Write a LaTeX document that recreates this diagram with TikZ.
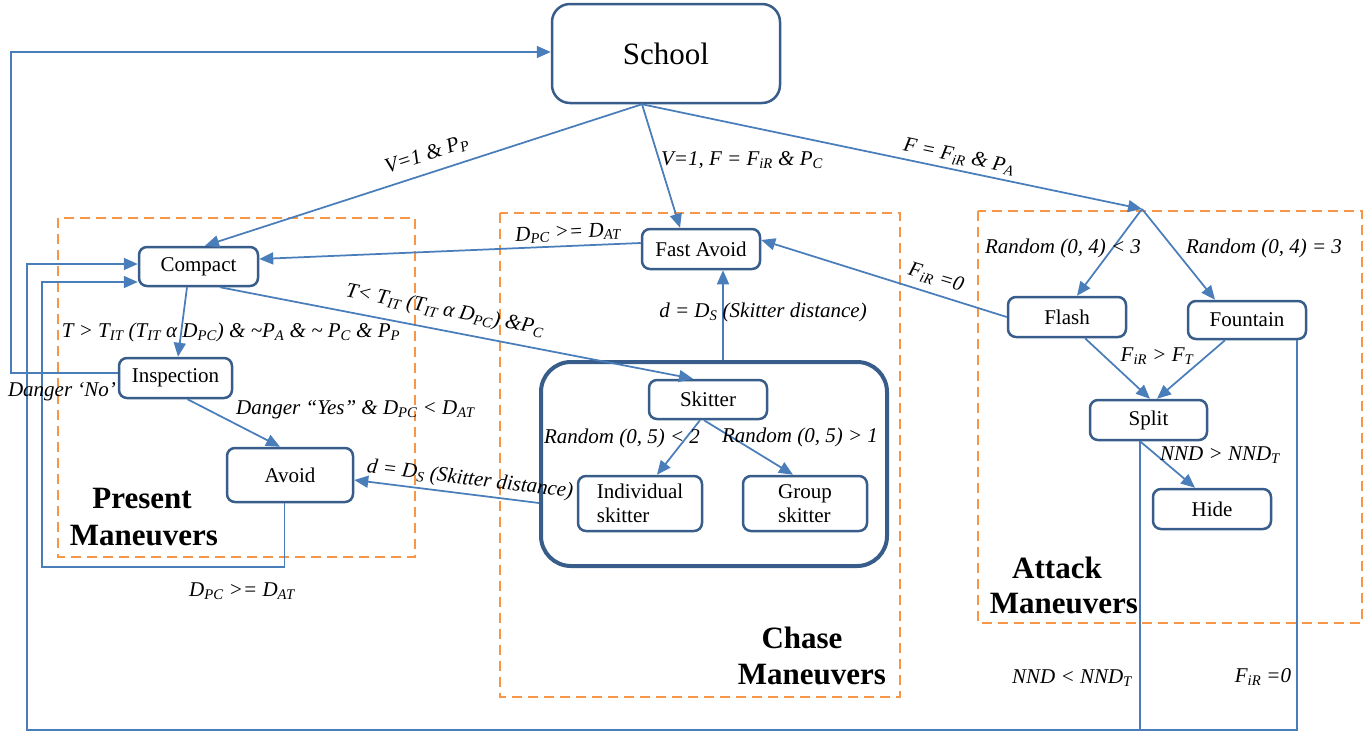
\documentclass[tikz,border=0pt]{standalone}
\usepackage{fontspec}
\setmainfont{Liberation Serif}
\usetikzlibrary{arrows.meta}
\definecolor{linkblue}{RGB}{74,126,187}
\definecolor{boxblue}{RGB}{56,93,138}
\definecolor{zoneorange}{RGB}{247,150,70}

\begin{document}
\begin{tikzpicture}[x=1pt,y=-1pt,
  state/.style={draw=boxblue, line width=2.5pt, rounded corners=8pt, fill=white,
    inner sep=0pt, font=\fontsize{21}{24}\selectfont},
  link/.style={draw=linkblue, line width=1.75pt},
  arr/.style={link, -{Triangle[length=14pt,width=12pt]}},
  cond/.style={font=\fontsize{21}{24}\selectfont\itshape, inner sep=0pt},
  zone/.style={draw=zoneorange, line width=2.5pt, dash pattern=on 10pt off 6pt},
  title/.style={font=\fontsize{31}{37}\selectfont\bfseries, inner sep=0pt}
]
\useasboundingbox (0,0) rectangle (1371,734);

% maneuver groups
\draw[zone] (58,218) rectangle (415,557);
\draw[zone] (500,213) rectangle (900,697);
\draw[zone] (978,211) rectangle (1362,623);

\node[title] (presentA) at (142,498) {Present};
\node[title] (presentB) at (144,536) {Maneuvers};
\node[title] (chaseA) at (802,638) {Chase};
\node[title] (chaseB) at (812,675) {Maneuvers};
\node[title] (attackA) at (1057,568) {Attack};
\node[title] (attackB) at (1064,604) {Maneuvers};

% states
\node[state, rounded corners=18pt, minimum width=228pt, minimum height=99pt,
  font=\fontsize{31}{36}\selectfont] (school) at (666,53.5) {School};
\node[state, minimum width=119pt, minimum height=39pt] (compact) at (198.5,266.5) {Compact};
\node[state, minimum width=113pt, minimum height=40pt] (inspection) at (175.5,378) {Inspection};
\node[state, minimum width=126pt, minimum height=54pt] (avoid) at (290,475) {Avoid};
\node[state, minimum width=118pt, minimum height=40pt] (fastavoid) at (701,249) {Fast Avoid};
\node[draw=boxblue, line width=4pt, rounded corners=30pt, minimum width=346pt,
  minimum height=204pt, inner sep=0pt] (skitgroup) at (714,464) {};
\node[state, minimum width=118pt, minimum height=39pt] (skitter) at (708,399.5) {Skitter};
\node[state, minimum width=124pt, minimum height=55pt, align=left] (indiv) at (640,503.5) {Individual\\skitter};
\node[state, minimum width=124pt, minimum height=55pt, align=left] (group) at (805,503.5) {Group\\skitter};
\node[state, minimum width=118pt, minimum height=40pt] (flash) at (1067,317) {Flash};
\node[state, minimum width=118pt, minimum height=38pt] (fountain) at (1247,320) {Fountain};
\node[state, minimum width=117pt, minimum height=40pt] (split) at (1148.5,420) {Split};
\node[state, minimum width=118pt, minimum height=40pt] (hide) at (1212,509) {Hide};

\coordinate (attack) at (1142,209);
\coordinate (bl) at (27,730);
\coordinate (al) at (42,567);

% transitions out of School
\draw[arr] ([xshift=-24pt]school.south) -- ([xshift=6.5pt]compact.north);
\draw[arr] ([xshift=-24pt]school.south) -- ([xshift=-21pt]fastavoid.north);
\draw[arr] ([xshift=-24pt]school.south) -- (attack);

% attack branch
\draw[arr] (attack) -- ([xshift=10pt]flash.north);
\draw[arr] (attack) -- ([xshift=-32pt]fountain.north);
\draw[arr] (flash.west) -- ([yshift=9pt]fastavoid.east);
\draw[arr] ([xshift=18pt]flash.south) -- ([xshift=1.5pt]split.north);
\draw[arr] ([xshift=-22pt]fountain.south) -- ([xshift=8.5pt]split.north);
\draw[arr] ([xshift=-8.5pt]split.south) -- ([xshift=-17pt]hide.north);
\draw[link] ([xshift=-8.5pt]split.south) -- ([xshift=-8.5pt]split.south |- bl);
\draw[arr] ([xshift=50pt]fountain.south) |- (bl) |- ([yshift=2.5pt]compact.west);

% chase branch
\draw[arr] ([yshift=6pt]fastavoid.west) -- ([yshift=7.5pt]compact.east);
\draw[arr] ([xshift=21.5pt]compact.south) -- ([xshift=-15pt]skitter.north);
\draw[arr] ([xshift=9pt]skitgroup.north) -- ([xshift=9pt]skitgroup.north |- fastavoid.south);
\draw[arr] ([yshift=-39pt]skitgroup.west) -- ([yshift=-5pt]avoid.east);
\draw[arr] ([xshift=-8pt]skitter.south) -- ([xshift=17pt]indiv.north);
\draw[arr] ([xshift=-4pt]skitter.south) -- ([xshift=-12pt]group.north);

% present branch
\draw[arr] ([xshift=-11.5pt]compact.south) -- ([xshift=2.5pt]inspection.north);
\draw[arr] ([xshift=12pt]inspection.south) -- ([xshift=-10pt]avoid.north);
\draw[arr] ([yshift=5pt]inspection.west) -- ++(-107,0) |- ([yshift=1.5pt]school.west);
\draw[arr] ([xshift=-5.5pt]avoid.south) |- (al) |- ([yshift=-15.5pt]compact.west);

% conditions
\node[cond, rotate=18] (cPP) at (427,155) {V=1 \& P\textsubscript{P}};
\node[cond] (cPC) at (742,160) {V=1, F = F\textsubscript{iR} \& P\textsubscript{C}};
\node[cond, rotate=-11.7] (cPA) at (959,157) {F = F\textsubscript{iR} \& P\textsubscript{A}};
\node[cond, rotate=3] (cFC) at (568,233) {D\textsubscript{PC} >= D\textsubscript{AT}};
\node[cond, rotate=-11] (cCS) at (445,311) {T< T\textsubscript{IT} (T\textsubscript{IT} α D\textsubscript{PC}) \&P\textsubscript{C}};
\node[cond] (cCI) at (231,332) {T > T\textsubscript{IT} (T\textsubscript{IT} α D\textsubscript{PC}) \& \textasciitilde P\textsubscript{A} \& \textasciitilde{} P\textsubscript{C} \& P\textsubscript{P}};
\node[cond] (cNo) at (62,392) {Danger ‘No’};
\node[cond, anchor=west] (cYes) at (236,410) {Danger “Yes” \& D\textsubscript{PC} < D\textsubscript{AT}};
\node[cond] (cSF) at (763,312) {d = D\textsubscript{S} (Skitter distance)};
\node[cond, rotate=-7] (cSA) at (470,480) {d = D\textsubscript{S} (Skitter distance)};
\node[cond] (cRI) at (622,438) {Random (0, 5) < 2};
\node[cond] (cRG) at (800,437) {Random (0, 5) > 1};
\node[cond] (cRF) at (1063,248) {Random (0, 4) < 3};
\node[cond] (cRN) at (1264,248) {Random (0, 4) = 3};
\node[cond, rotate=-17] (cFF) at (936,278) {F\textsubscript{iR} =0};
\node[cond] (cFS) at (1157,356) {F\textsubscript{iR} > F\textsubscript{T}};
\node[cond] (cNH) at (1220,455) {NND > NND\textsubscript{T}};
\node[cond] (cNL) at (1072,678) {NND < NND\textsubscript{T}};
\node[cond] (cFB) at (1263,677) {F\textsubscript{iR} =0};
\node[cond] (cAC) at (242,591) {D\textsubscript{PC} >= D\textsubscript{AT}};
\end{tikzpicture}
\end{document}
